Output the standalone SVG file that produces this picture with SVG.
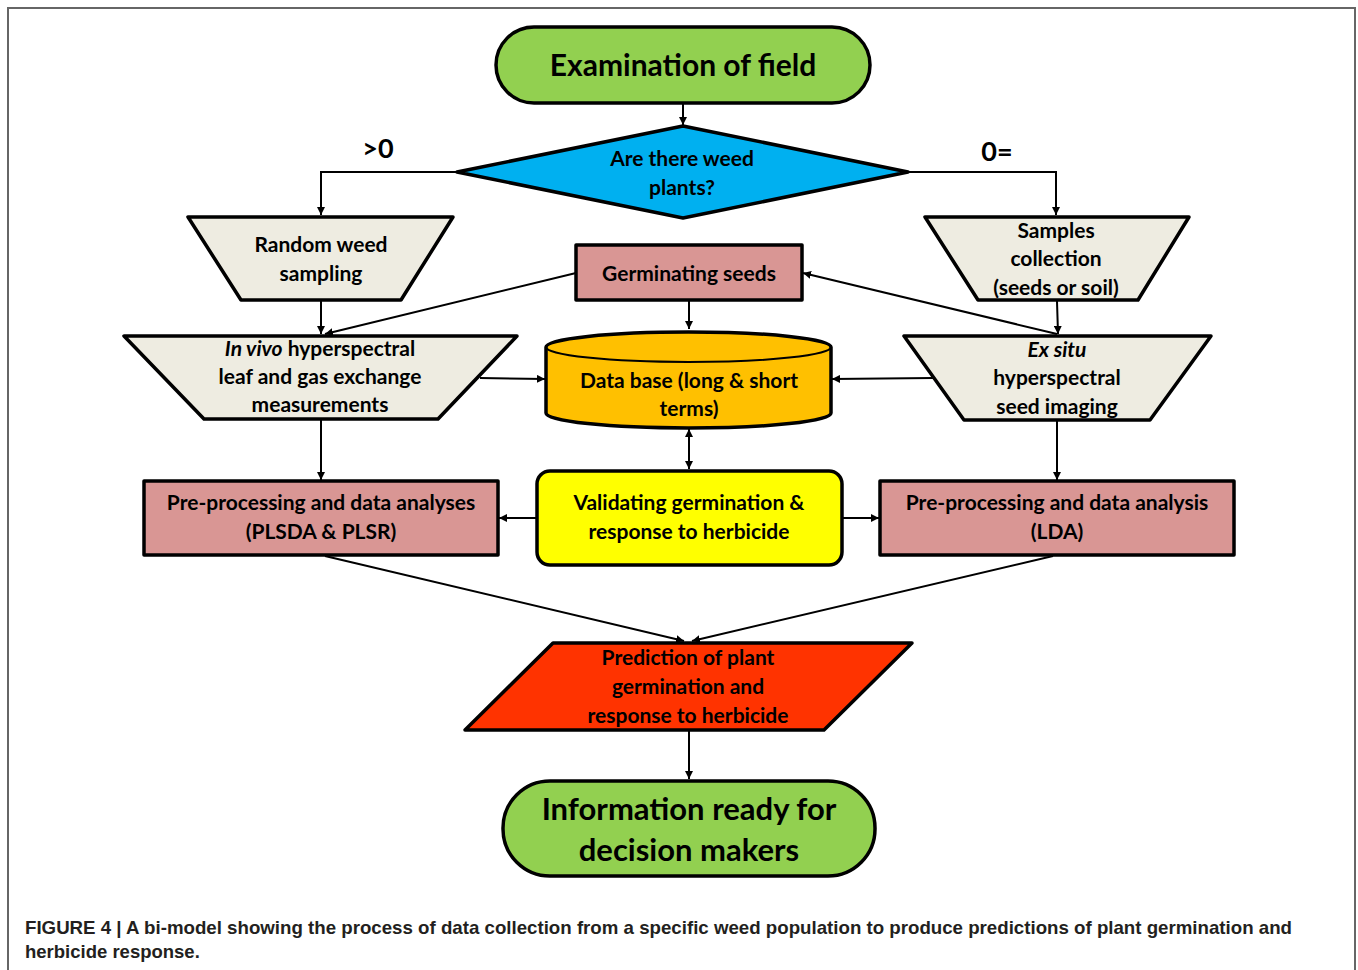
<svg xmlns="http://www.w3.org/2000/svg" width="1358" height="970" viewBox="0 0 1358 970">
<style>
  .shape { stroke: #000; stroke-width: 3.5; stroke-linejoin: round; }
  .t { font-family: Lato, "Open Sans", "Liberation Sans", sans-serif; font-weight: bold; font-size: 21px; fill: #000; text-anchor: middle; }
  .big { font-size: 30px; }
  .huge { font-size: 31px; }
  .lbl { font-size: 27px; }
  .conn { stroke: #000; stroke-width: 2; fill: none; }
  .cap { font-family: "Liberation Sans", Arial, sans-serif; font-weight: bold; font-size: 18.5px; fill: #231F20; }
</style>
<defs>
  <marker id="ah" viewBox="0 0 10 10" refX="10" refY="5" markerWidth="8" markerHeight="8" orient="auto-start-reverse" markerUnits="userSpaceOnUse">
    <path d="M0,0 L10,5 L0,10 z" fill="#000"/>
  </marker>
</defs>
<rect x="0" y="0" width="1358" height="970" fill="#fff"/>
<path d="M8,970 V8 H1355 V970" fill="none" stroke="#666" stroke-width="2"/>

<g id="connectors">
  <line class="conn" x1="683" y1="104" x2="683" y2="125" marker-end="url(#ah)"/>
  <polyline class="conn" points="457,172 321,172 321,215" marker-end="url(#ah)"/>
  <polyline class="conn" points="908,172 1056,172 1056,215" marker-end="url(#ah)"/>
  <line class="conn" x1="321" y1="301" x2="321" y2="334" marker-end="url(#ah)"/>
  <line class="conn" x1="1057" y1="301" x2="1058" y2="334" marker-end="url(#ah)"/>
  <line class="conn" x1="576" y1="273" x2="325" y2="334" marker-end="url(#ah)"/>
  <line class="conn" x1="1057" y1="334" x2="803" y2="273" marker-end="url(#ah)"/>
  <line class="conn" x1="689" y1="301" x2="689" y2="329" marker-end="url(#ah)"/>
  <line class="conn" x1="480" y1="378" x2="545" y2="379" marker-end="url(#ah)"/>
  <line class="conn" x1="933" y1="378" x2="832" y2="379" marker-end="url(#ah)"/>
  <line class="conn" x1="689" y1="429" x2="689" y2="469" marker-start="url(#ah)" marker-end="url(#ah)"/>
  <line class="conn" x1="321" y1="420" x2="321" y2="480" marker-end="url(#ah)"/>
  <line class="conn" x1="1057" y1="421" x2="1057" y2="480" marker-end="url(#ah)"/>
  <line class="conn" x1="537" y1="518" x2="499" y2="518" marker-end="url(#ah)"/>
  <line class="conn" x1="842" y1="518" x2="879" y2="518" marker-end="url(#ah)"/>
  <line class="conn" x1="325" y1="556" x2="684" y2="641" marker-end="url(#ah)"/>
  <line class="conn" x1="1053" y1="556" x2="692" y2="641" marker-end="url(#ah)"/>
  <line class="conn" x1="689" y1="731" x2="689" y2="779" marker-end="url(#ah)"/>
  <text class="t lbl" x="378" y="158">&gt;0</text>
  <text class="t lbl" x="997" y="161">0=</text>
</g>

<g id="examination">
  <rect class="shape" x="496" y="27" width="374" height="76" rx="38" fill="#92D050"/>
  <text class="t big" x="683" y="76">Examination of field</text>
</g>

<g id="decision">
  <polygon class="shape" points="683,126 908,172 683,218 457,172" fill="#00B0F0"/>
  <text class="t" x="682" y="166">Are there weed</text>
  <text class="t" x="682" y="195">plants?</text>
</g>

<g id="random-sampling">
  <polygon class="shape" points="188,217 453,217 401,300 241,300" fill="#EEECE1"/>
  <text class="t" x="321" y="252">Random weed</text>
  <text class="t" x="321" y="281">sampling</text>
</g>

<g id="samples-collection">
  <polygon class="shape" points="925,217 1189,217 1138,300 978,300" fill="#EEECE1"/>
  <text class="t" x="1056" y="238">Samples</text>
  <text class="t" x="1056" y="266">collection</text>
  <text class="t" x="1056" y="295">(seeds or soil)</text>
</g>

<g id="germinating">
  <rect class="shape" x="576" y="245" width="226" height="55" fill="#D99694"/>
  <text class="t" x="689" y="281">Germinating seeds</text>
</g>

<g id="in-vivo">
  <polygon class="shape" points="124,336 517,336 438,419 204,419" fill="#EEECE1"/>
  <text class="t" x="320" y="356"><tspan font-style="italic">In vivo</tspan> hyperspectral</text>
  <text class="t" x="320" y="384">leaf and gas exchange</text>
  <text class="t" x="320" y="412">measurements</text>
</g>

<g id="ex-situ">
  <polygon class="shape" points="904,336 1211,336 1150,420 964,420" fill="#EEECE1"/>
  <text class="t" x="1057" y="357" font-style="italic">Ex situ</text>
  <text class="t" x="1057" y="385">hyperspectral</text>
  <text class="t" x="1057" y="414">seed imaging</text>
</g>

<g id="database">
  <path class="shape" d="M546,347 V413 A142.5,15 0 0 0 831,413 V347 A142.5,15 0 0 0 546,347 Z" fill="#FFC000"/>
  <path d="M546,347 A142.5,15 0 0 0 831,347" fill="none" stroke="#000" stroke-width="2"/>
  <text class="t" x="689" y="388">Data base (long &amp; short</text>
  <text class="t" x="689" y="416">terms)</text>
</g>

<g id="validating">
  <rect class="shape" x="537" y="471" width="305" height="94" rx="13" fill="#FFFF00"/>
  <text class="t" x="689" y="510">Validating germination &amp;</text>
  <text class="t" x="689" y="539">response to herbicide</text>
</g>

<g id="pp-left">
  <rect class="shape" x="144" y="481" width="354" height="74" fill="#D99694"/>
  <text class="t" x="321" y="510">Pre-processing and data analyses</text>
  <text class="t" x="321" y="539">(PLSDA &amp; PLSR)</text>
</g>

<g id="pp-right">
  <rect class="shape" x="880" y="481" width="354" height="74" fill="#D99694"/>
  <text class="t" x="1057" y="510">Pre-processing and data analysis</text>
  <text class="t" x="1057" y="539">(LDA)</text>
</g>

<g id="prediction">
  <polygon class="shape" points="553,643 912,643 824,730 465,730" fill="#FF3300"/>
  <text class="t" x="688" y="665">Prediction of plant</text>
  <text class="t" x="688" y="694">germination and</text>
  <text class="t" x="688" y="723">response to herbicide</text>
</g>

<g id="information">
  <rect class="shape" x="503" y="781" width="372" height="95" rx="47" fill="#92D050"/>
  <text class="t huge" x="689" y="820">Information ready for</text>
  <text class="t huge" x="689" y="861">decision makers</text>
</g>

<text class="cap" x="25" y="934" textLength="1267" lengthAdjust="spacingAndGlyphs">FIGURE 4 | A bi-model showing the process of data collection from a specific weed population to produce predictions of plant germination and</text>
<text class="cap" x="25" y="958">herbicide response.</text>
</svg>
